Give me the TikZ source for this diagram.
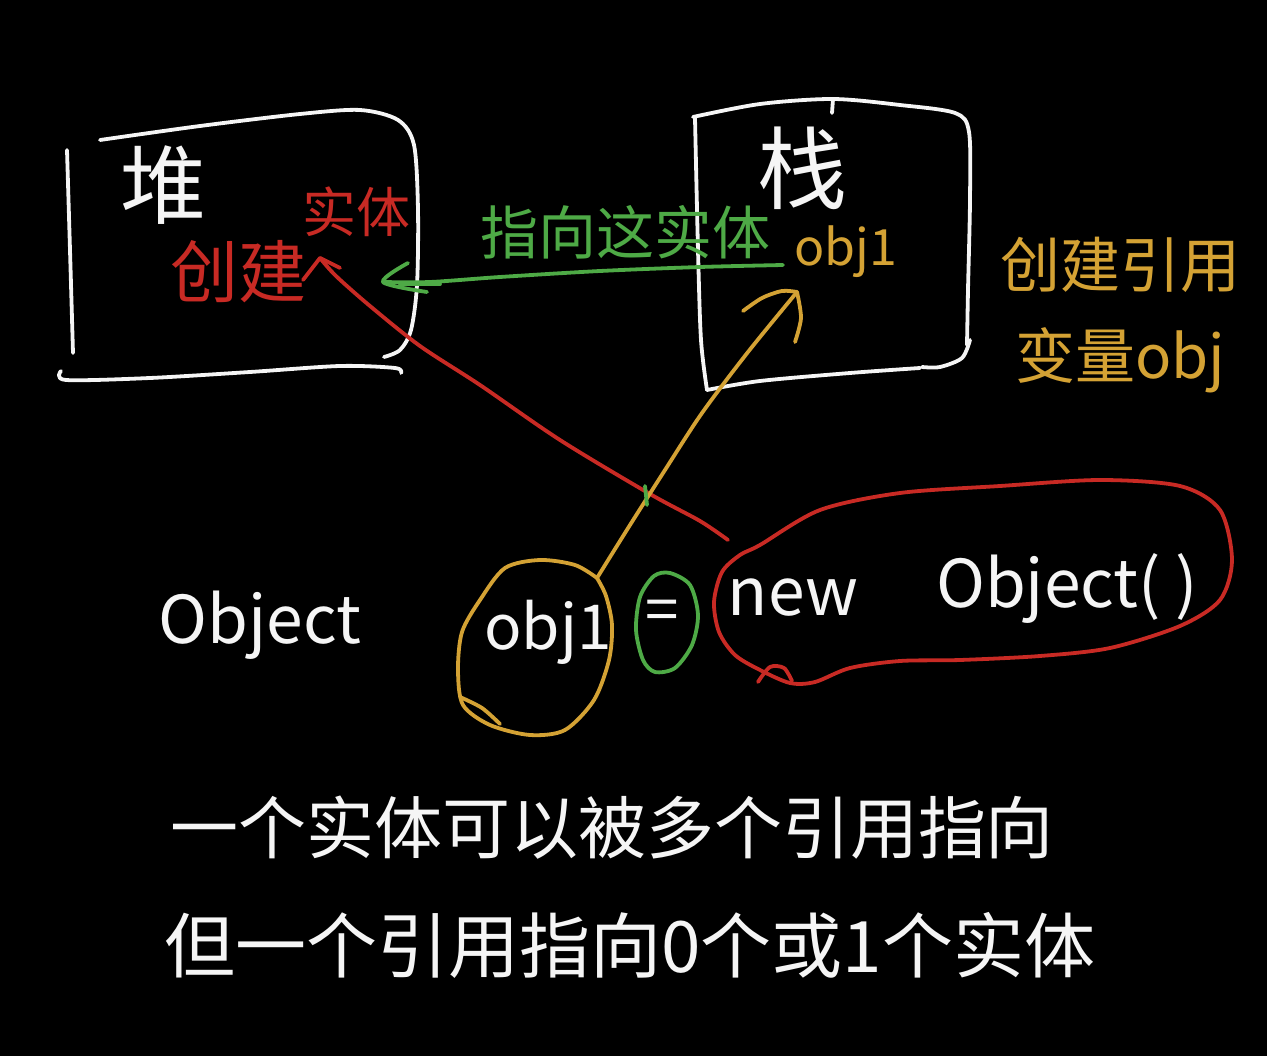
\documentclass[tikz,border=0pt]{standalone}
\usepackage{fontspec}
\newfontfamily\cjk{Noto Sans CJK SC}
\usetikzlibrary{arrows.meta}
\definecolor{hred}{RGB}{200,42,36}
\definecolor{hgold}{RGB}{212,162,52}
\definecolor{hgreen}{RGB}{78,170,70}
\definecolor{hwhite}{RGB}{245,245,245}
\tikzset{
  pen/.style={line width=3.8pt, line cap=round, line join=round},
  wpen/.style={pen, draw=hwhite},
  rpen/.style={pen, draw=hred},
  gpen/.style={pen, draw=hgreen},
  ypen/.style={pen, draw=hgold},
  lbl/.style={inner sep=0pt, font=\cjk},
}
\newcommand{\fsz}[1]{\fontsize{#1}{#1}\selectfont}
\begin{document}
\begin{tikzpicture}[x=1pt,y=-1pt]
\fill[black] (0,0) rectangle (1267,1056);
\useasboundingbox (0,0) rectangle (1267,1056);

% heap box
\draw[wpen] plot[smooth] coordinates {(100,140) (200,126) (300,114) (360,110) (398,120) (414,145) (418,210) (417,285) (411,330) (400,350) (384,357)};
\draw[wpen] plot[smooth] coordinates {(67,150) (70,250) (73,353)};
\draw[wpen] plot[smooth] coordinates {(61,371) (66,380) (150,378) (250,372) (340,366) (395,368) (401,373)};

% stack box
\draw[wpen] plot[smooth] coordinates {(693,117) (760,104) (833,99) (900,105) (955,113) (969,132) (970,200) (968,290) (967,345)};
\draw[wpen] (833,99) -- (832,113);
\draw[wpen] plot[smooth] coordinates {(695,118) (698,250) (701,340) (707,390)};
\draw[wpen] plot[smooth] coordinates {(707,390) (760,381) (850,373) (920,368)};
\draw[wpen] plot[smooth] coordinates {(970,340) (962,358) (940,367) (922,367)};

% labels in boxes
\node[lbl, text=hwhite] (heap) at (163,185) {\fsz{86}堆};
\node[lbl, text=hwhite] (stack) at (802,168) {\fsz{90}栈};
\node[lbl, text=hred] (create) at (238,272) {\fsz{68}创建};
\node[lbl, text=hred] (entity) at (356,212) {\fsz{54}实体};
\node[lbl, text=hgold] (sobj) at (846,252) {\fsz{50}obj1};
\node[lbl, text=hgreen] (point) at (625,232) {\fsz{58}指向这实体};
\node[lbl, text=hgold] (ref1) at (1120,265) {\fsz{60}创建引用};
\node[lbl, text=hgold] (ref2) at (1120,360) {\fsz{60}变量obj};

% statement
\node[lbl, text=hwhite] (otype) at (260,625) {\fsz{66}Object};
\node[lbl, text=hwhite] (oname) at (548,632) {\fsz{62}obj1};
\node[lbl, text=hwhite] (eq) at (662,616) {\fsz{60}=};
\node[lbl, text=hwhite] (new) at (793,598) {\fsz{66}new};
\node[lbl, text=hwhite] (ctor) at (1067,588) {\fsz{66}Object( )};

% bottom text
\node[lbl, text=hwhite] (line1) at (612,828) {\fsz{68}一个实体可以被多个引用指向};
\node[lbl, text=hwhite] (line2) at (630,945) {\fsz{71}但一个引用指向0个或1个实体};

% circles
\draw[ypen] plot[smooth] coordinates {(597,578) (575,565) (540,560) (505,568) (480,600) (462,632) (458,670) (463,705) (490,725) (530,735) (565,730) (594,700) (609,660) (612,625) (606,596) (597,578)};
\draw[ypen] plot[smooth] coordinates {(460,697) (482,708) (500,724)};
\draw[gpen] plot[smooth cycle] coordinates {(670,573) (690,585) (698,615) (692,645) (675,668) (655,672) (643,660) (636,630) (640,597) (654,576)};
\draw[rpen] plot[smooth cycle] coordinates {(760,545) (820,510) (900,493) (1000,486) (1100,480) (1180,486) (1220,510) (1232,560) (1220,600) (1180,626) (1110,648) (1040,656) (960,660) (900,661) (850,668) (815,682) (790,683) (760,670) (735,655) (719,632) (714,602) (722,572) (740,555)};
\draw[rpen] plot[smooth] coordinates {(758,682) (770,667) (784,668) (792,681)};

% coordinates for connectors
\coordinate (rstart) at (728,540);
\coordinate (rtip) at (320,258);
\coordinate (ystart) at (597,578);
\coordinate (ytip) at (797,292);
\coordinate (gstart) at (783,265);
\coordinate (gtip) at (383,282);

% red: new Object() -> 创建实体
\draw[rpen] plot[smooth] coordinates {(rstart) (700,521) (650,494) (560,440) (480,385) (420,346) (370,306) (336,276) (rtip)};
\draw[rpen] (303,280) -- (rtip) -- (340,268);

% yellow: obj1 -> stack obj1
\draw[ypen] plot[smooth] coordinates {(ystart) (630,525) (665,470) (702,413) (748,352) (ytip)};
\draw[ypen] plot[smooth] coordinates {(743,311) (762,298) (782,291) (ytip)};
\draw[ypen] plot[smooth] coordinates {(ytip) (801,318) (795,342)};

% green: stack obj1 -> heap entity
\draw[gpen] plot[smooth] coordinates {(gstart) (700,267) (600,271) (500,277) (430,282) (gtip)};
\draw[gpen] plot[smooth] coordinates {(408,263) (gtip) (427,292)};
\draw[gpen] (400,284) -- (440,284);
\draw[gpen] (645,486) -- (647,505);
\end{tikzpicture}
\end{document}
